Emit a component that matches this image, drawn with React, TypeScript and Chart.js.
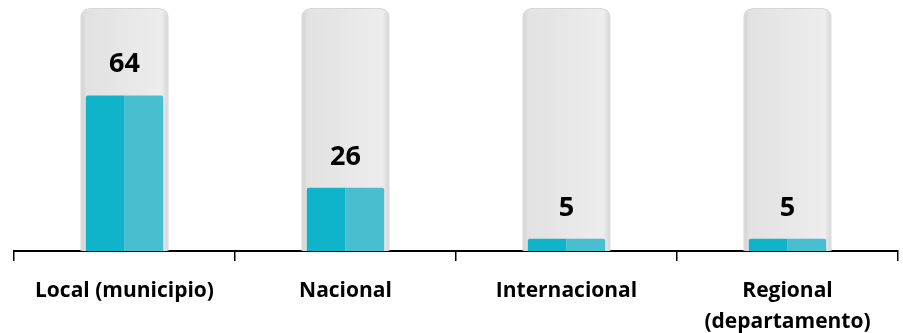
import React, { useEffect, useRef } from "react";
import { Chart, registerables } from "chart.js";

Chart.register(...registerables);

const categories: (string | string[])[] = [
  "Local (municipio)",
  "Nacional",
  "Internacional",
  ["Regional", "(departamento)"],
];
const values = [64, 26, 5, 5];
const backgroundValues = [100, 100, 100, 100];
const valueLabels = ["64", "26", "5", "5"];

const FONT = "'Open Sans', 'DejaVu Sans', sans-serif";
const VFONT = "'Open Sans', 'DejaVu Sans', sans-serif";

export default function App() {
  const ref = useRef<HTMLCanvasElement | null>(null);

  useEffect(() => {
    if (!ref.current) return;

    const grayFill = (ctx: any) => {
      const chart = ctx.chart;
      const xs = chart.scales.x;
      const area = chart.chartArea;
      if (!xs || !area) return "#E8E7E8";
      const cw = (area.right - area.left) / categories.length;
      const cx = xs.getPixelForValue(ctx.dataIndex);
      const half = cw * 0.2;
      const g = chart.ctx.createLinearGradient(cx - half, 0, cx + half, 0);
      g.addColorStop(0, "#CFCFCF");
      g.addColorStop(0.07, "#E3E2E3");
      g.addColorStop(0.5, "#E8E7E8");
      g.addColorStop(0.92, "#EEEDEE");
      g.addColorStop(1, "#D3D3D3");
      return g;
    };

    const labelPlugin = {
      id: "valueLabels",
      afterDatasetsDraw(chart: any) {
        const c = chart.ctx;
        const xs = chart.scales.x;
        const ys = chart.scales.y;
        c.save();
        c.fillStyle = "#000";
        c.font = `bold 27px ${VFONT}`;
        c.textAlign = "center";
        c.textBaseline = "middle";
        values.forEach((v, i) => {
          const x = xs.getPixelForValue(i);
          const y = ys.getPixelForValue(v) - 31;
          c.fillText(valueLabels[i], x, y);
        });
        c.restore();
      },
    };

    const chart = new Chart(ref.current, {
      type: "bar",
      data: {
        labels: categories as any,
        datasets: [
          {
            data: values,
            backgroundColor: "#10B4CA",
            borderWidth: 0,
            categoryPercentage: 0.35,
            barPercentage: 1,
            borderRadius: { topLeft: 2, topRight: 0, bottomLeft: 0, bottomRight: 0 },
            order: 0,
          },
          {
            data: values,
            backgroundColor: "#48BFCF",
            borderWidth: 0,
            categoryPercentage: 0.35,
            barPercentage: 1,
            borderRadius: { topLeft: 0, topRight: 2, bottomLeft: 0, bottomRight: 0 },
            order: 0,
          },
          {
            data: backgroundValues,
            backgroundColor: grayFill as any,
            borderColor: "#D6D6D6",
            borderWidth: { top: 1.5, left: 1.5, right: 1.5, bottom: 0 } as any,
            borderSkipped: "bottom",
            borderRadius: { topLeft: 9, topRight: 9, bottomLeft: 4, bottomRight: 4 },
            grouped: false,
            categoryPercentage: 0.4,
            barPercentage: 1,
            order: 5,
          } as any,
        ],
      },
      options: {
        animation: false,
        responsive: false,
        maintainAspectRatio: false,
        layout: { padding: { left: 14, right: 5, top: 8, bottom: -20 } },
        plugins: {
          legend: { display: false },
          tooltip: { enabled: false },
        },
        scales: {
          x: {
            grid: {
              display: true,
              drawOnChartArea: false,
              drawTicks: true,
              tickLength: 10,
              color: "#000",
              lineWidth: 1.5,
              offset: true,
            },
            border: { display: true, color: "#000", width: 2 },
            ticks: {
              color: "#000",
              padding: 15,
              maxRotation: 0,
              autoSkip: false,
              font: { family: FONT, weight: "bold", size: 21, lineHeight: "31px" as any },
            },
          },
          y: {
            display: false,
            min: 0,
            max: 100,
          },
        },
      },
      plugins: [labelPlugin],
    });

    return () => chart.destroy();
  }, []);

  return (
    <div style={{ position: "absolute", left: 0, top: 0, width: 903, height: 333, background: "#fff" }}>
      <canvas ref={ref} width={903} height={333} style={{ width: 903, height: 333, display: "block" }} />
    </div>
  );
}
